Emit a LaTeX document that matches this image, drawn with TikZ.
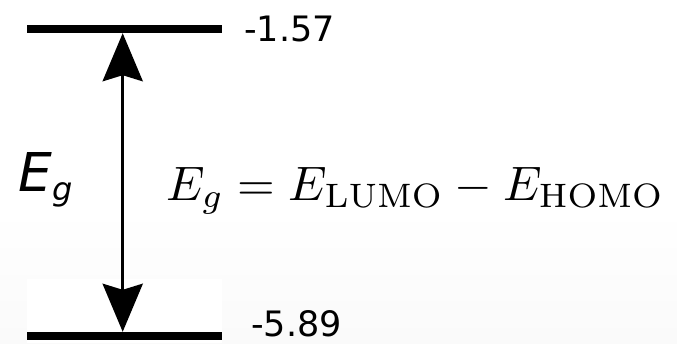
\documentclass[tikz,border=0pt]{standalone}
\usepackage{fontspec}
\usepackage{amsmath}
\usetikzlibrary{positioning,arrows.meta}
\newfontfamily\levelfont{DejaVu Sans}

\begin{document}
\begin{tikzpicture}[x=1pt,y=1pt,>={Stealth[length=48pt,width=40pt,inset=6pt]},
  level/.style={fill=black,inner sep=0pt,minimum width=195pt,minimum height=8pt},
  energy/.style={inner sep=0pt,font=\levelfont\fontsize{35}{37}\selectfont}]
\useasboundingbox (0,0) rectangle (677,343);
\shade[top color=white,bottom color=black!2] (0,0) rectangle (677,135);
\fill[white] (27,0) rectangle (222,64);
\node[level] (lumo) at (124.5,314) {};
\node[level] (homo) at (124.5,7) {};
\coordinate (axis) at (122.7,0);
\draw[<->,line width=3.5pt] (axis |- lumo.south) -- (axis |- homo.north);
\node[energy,anchor=west] (elumo) at (244,314) {-1.57};
\node[energy,anchor=west] (ehomo) at (251,19) {-5.89};
\node[inner sep=0pt,anchor=base west,font=\levelfont\itshape\fontsize{53.5}{56}\selectfont] (gap) at (18,151) {E\raisebox{-9pt}{\fontsize{32}{34}\selectfont g}};
\node[inner sep=0pt,anchor=base west] (def) at (166,143) {\resizebox{498pt}{!}{$E_g = E_{\mathrm{LUMO}} - E_{\mathrm{HOMO}}$}};
\end{tikzpicture}
\end{document}
